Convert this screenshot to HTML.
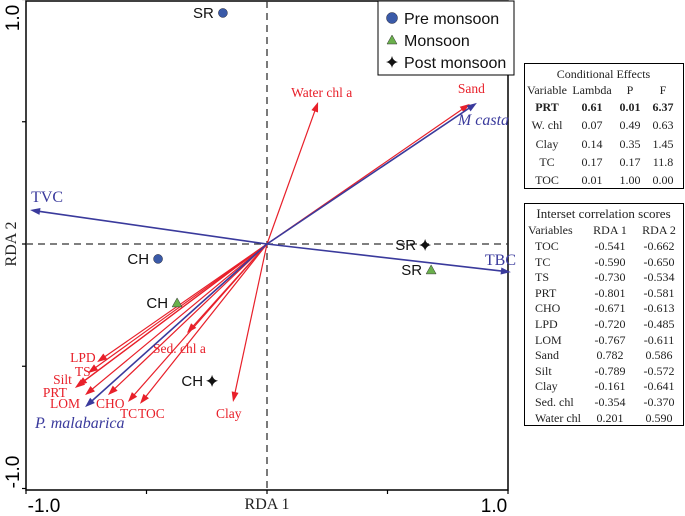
<!DOCTYPE html>
<html><head><meta charset="utf-8"><style>
body{margin:0;background:#fff;width:685px;height:516px;overflow:hidden;position:relative}
svg{position:absolute;left:0;top:0}
.tb{position:absolute;border:1.5px solid #000;font-family:"Liberation Serif",serif;font-size:12px;color:#222;background:#fff;box-sizing:border-box}
.row{position:absolute;left:0;width:100%;height:16px;line-height:16px}
.row span{position:absolute;text-align:center}
</style></head><body>
<svg width="685" height="516">
<g id="plot"></g>
</svg>
<div class="tb" id="t1" style="left:524px;top:63px;width:160px;height:126px"></div>
<div class="tb" id="t2" style="left:524px;top:203px;width:160px;height:223px"></div>
<script>
const envNames=["TOC","TC","TS","PRT","CHO","LPD","LOM","Sand","Silt","Clay","Sed. chl","Water chl"];
const rda1=[-0.541,-0.590,-0.730,-0.801,-0.671,-0.720,-0.767,0.782,-0.789,-0.161,-0.354,0.201];
const rda2=[-0.662,-0.650,-0.534,-0.581,-0.613,-0.485,-0.611,0.586,-0.572,-0.641,-0.370,0.590];
const condVars=["PRT","W. chl","Clay","TC","TOC"];
const condLambda=["0.61","0.07","0.14","0.17","0.01"];
const condP=["0.01","0.49","0.35","0.17","1.00"];
const condF=["6.37","0.63","1.45","11.8","0.00"];
const arrowLabels=["TOC","TC","TS","PRT","CHO","LPD","LOM","Sand","Silt","Clay","Sed. chl a","Water chl a"];
const arrowX=[-0.527,-0.577,-0.743,-0.797,-0.66,-0.705,-0.755,0.842,-0.788,-0.141,-0.332,0.212];
const arrowY=[-0.654,-0.646,-0.528,-0.589,-0.618,-0.483,-0.618,0.573,-0.581,-0.646,-0.364,0.581];
const speciesNames=["M casta","TVC","TBC","P. malabarica"];
const speciesX=[0.871,-0.983,1.012,-0.755];
const speciesY=[0.577,0.139,-0.115,-0.667];
const siteNames=["SR","CH","CH","CH","SR","SR"];
const siteSeason=["pre","pre","mon","post","post","mon"];
const siteX=[-0.183,-0.452,-0.373,-0.228,0.656,0.681];
const siteY=[0.945,-0.061,-0.241,-0.560,-0.004,-0.106];

const L=26,R=508,T=1,B=490,CX=267,CY=244;
const sx=v=>CX+v*(R-L)/2, sy=v=>CY-v*(B-T)/2;
const NS="http://www.w3.org/2000/svg",g=document.getElementById('plot');
function mk(t,a,txt){const e=document.createElementNS(NS,t);for(const k in a)e.setAttribute(k,a[k]);if(txt!=null)e.textContent=txt;g.appendChild(e);return e;}
function row(box,top,cells,cols,style){const r=document.createElement('div');r.className='row';r.style.top=top+'px';if(style)r.style.cssText+=style;
cells.forEach((c,i)=>{const s=document.createElement('span');s.textContent=c;s.style.left=cols[i][0]+'px';s.style.width=cols[i][1]+'px';if(cols[i][2])s.style.textAlign=cols[i][2];r.appendChild(s);});
box.appendChild(r);return r;}
const t1=document.getElementById('t1'),t2=document.getElementById('t2');
let r=row(t1,2,["Conditional Effects"],[[0,157]]);


const c1=[[0,44],[44,46],[90,30],[120,36]];
r=row(t1,18,["Variable","Lambda","P","F"],c1);


condVars.forEach((v,i)=>{const rr=row(t1,35+i*18.3,[v,condLambda[i],condP[i],condF[i]],c1,i===0?'font-weight:bold':'');

});
r=row(t2,2,["Interset correlation scores"],[[0,157]],'font-size:13px');


const c2=[[3,62,'left'],[60,50],[110,48]];
r=row(t2,18,["Variables","RDA 1","RDA 2"],c2);


const c3=[[10,62,'left'],[60,50],[110,48]];
envNames.forEach((n,i)=>{const rr=row(t2,34+i*15.6,[n,rda1[i].toFixed(3),rda2[i].toFixed(3)],c3);

});
// frame
let e=mk('rect',{x:L,y:T,width:R-L,height:B-T,fill:'none',stroke:'#000','stroke-width':1.5});

e=mk('line',{x1:CX,y1:T,x2:CX,y2:B,stroke:'#333','stroke-dasharray':'7,5','stroke-width':1.3});

e=mk('line',{x1:L,y1:CY,x2:R,y2:CY,stroke:'#333','stroke-dasharray':'7,5','stroke-width':1.3});

[-1,-0.5,0,0.5,1].forEach(v=>{e=mk('line',{x1:sx(v),y1:B,x2:sx(v),y2:B+4,stroke:'#000','stroke-width':1.2});

e=mk('line',{x1:L-4,y1:sy(v),x2:L,y2:sy(v),stroke:'#000','stroke-width':1.2});
});
e=mk('text',{x:44,y:512,'font-family':'Liberation Sans','font-size':19,'text-anchor':'middle'},'-1.0');

e=mk('text',{x:494,y:512,'font-family':'Liberation Sans','font-size':19,'text-anchor':'middle'},'1.0');

e=mk('text',{x:0,y:0,transform:'translate(19,18) rotate(-90)','font-family':'Liberation Sans','font-size':19,'text-anchor':'middle'},'1.0');

e=mk('text',{x:0,y:0,transform:'translate(19,472) rotate(-90)','font-family':'Liberation Sans','font-size':19,'text-anchor':'middle'},'-1.0');

e=mk('text',{x:267,y:509,'font-family':'Liberation Serif','font-size':16,'text-anchor':'middle',fill:'#222'},'RDA 1');

e=mk('text',{x:0,y:0,transform:'translate(16,244) rotate(-90)','font-family':'Liberation Serif','font-size':16,'text-anchor':'middle',fill:'#222'},'RDA 2');

function arrow(x,y,col,w){const x2=sx(x),y2=sy(y);const a=Math.atan2(y2-CY,x2-CX);const h=10,hw=3.5;
const l=mk('line',{x1:CX,y1:CY,x2:x2-Math.cos(a)*h*0.8,y2:y2-Math.sin(a)*h*0.8,stroke:col,'stroke-width':w});
const p=mk('polygon',{points:`${x2},${y2} ${x2-Math.cos(a)*h-Math.sin(a)*hw},${y2-Math.sin(a)*h+Math.cos(a)*hw} ${x2-Math.cos(a)*h+Math.sin(a)*hw},${y2-Math.sin(a)*h-Math.cos(a)*hw}`,fill:col});
return [l,p];}
const envLab={TOC:[-2,14],TC:[-8,16],TS:[-13,3],PRT:[-32,9],CHO:[-12,13],LPD:[-27,0],LOM:[-35,13],Sand:[-12,-11],Silt:[-24,-2],Clay:[-17,16],"Sed. chl a":[-34,20],"Water chl a":[-27,-5]};
arrowLabels.forEach((n,i)=>{const [l,p]=arrow(arrowX[i],arrowY[i],'#e8202a',1.2);




const o=envLab[n];const t=mk('text',{x:sx(arrowX[i])+o[0],y:sy(arrowY[i])+o[1],'font-family':'Liberation Serif','font-size':13.5,fill:'#e8202a'},n);

});
const spLab=[[-19,22,true],[1,-8,false],[-26,-7,false],[-50,21,true]];
speciesNames.forEach((n,i)=>{const [l,p]=arrow(speciesX[i],speciesY[i],'#3a3a9c',1.6);




const o=spLab[i];const t=mk('text',{x:sx(speciesX[i])+o[0],y:sy(speciesY[i])+o[1],'font-family':'Liberation Serif','font-size':16,'font-style':o[2]?'italic':'normal',fill:'#3a3a9c'},n);

});
function marker(s,x,y,k){let m;
if(s==='pre')m=mk('circle',{cx:x,cy:y,r:k||4.5,fill:'#3a5aa8',stroke:'#223',"stroke-width":0.5});
else if(s==='mon')m=mk('polygon',{points:`${x},${y-5} ${x+5},${y+4} ${x-5},${y+4}`,fill:'#6ab04c',stroke:'#333','stroke-width':0.5});
else m=mk('path',{d:`M${x},${y-6} Q${x+1},${y-1} ${x+6},${y} Q${x+1},${y+1} ${x},${y+6} Q${x-1},${y+1} ${x-6},${y} Q${x-1},${y-1} ${x},${y-6}Z`,fill:'#111'});
return m;}
siteNames.forEach((n,i)=>{const x=sx(siteX[i]),y=sy(siteY[i]);const m=marker(siteSeason[i],x,y);


const t=mk('text',{x:x-9,y:y+5,'text-anchor':'end','font-family':'Liberation Sans','font-size':15,fill:'#111'},n);

});
e=mk('rect',{x:378,y:1,width:136,height:74,fill:'#fff',stroke:'#000','stroke-width':1});

const legS=['pre','mon','post'],legT=['Pre monsoon','Monsoon','Post monsoon'];
legS.forEach((s,i)=>{const y=18+i*22;const m=marker(s,392,y,5.5);


const t=mk('text',{x:404,y:y+6,'font-family':'Liberation Sans','font-size':16,fill:'#111'},legT[i]);

});
</script>
</body></html>
